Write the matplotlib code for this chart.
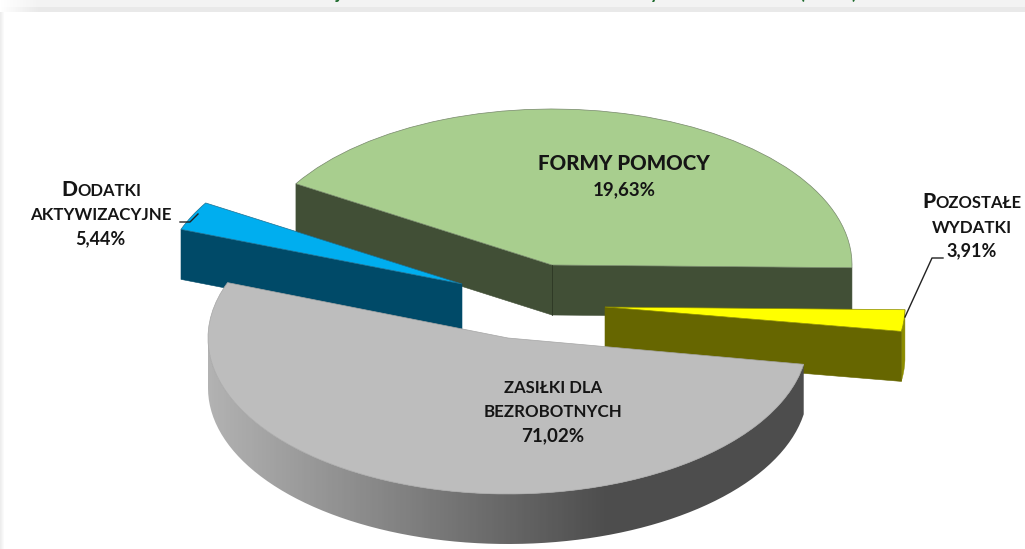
# -*- coding: utf-8 -*-
import numpy as np
import matplotlib
matplotlib.use('Agg')
import matplotlib.pyplot as plt
from matplotlib.patches import Wedge, Rectangle, Polygon
from matplotlib.transforms import Affine2D
from matplotlib.colors import LinearSegmentedColormap

plt.rcParams['font.family'] = ['Lato', 'DejaVu Sans']

# percentages as printed on the chart
names = ['ZASIŁKI DLA BEZROBOTNYCH', 'POZOSTAŁE WYDATKI', 'FORMY POMOCY', 'DODATKI AKTYWIZACYJNE']
shares = ['71,02%', '3,91%', '19,63%', '5,44%']
# the slices are not drawn to scale, so these are the angles read from the picture
start_deg = [159.2, -9.0, -1.0, 148.7]
end_deg = [350.3, -1.0, 148.6, 159.5]

top_colors = ['#BDBDBD', '#FFFF00', '#A8CE8E', '#00AEEF']
side_colors = ['#4D4D4D', '#666600', '#414F36', '#004A68']

# exploded centre of every slice in pixels
cx = [508, 605, 552, 462]
cy = [338, 307, 265, 284]
rx = 300
ry = 156
depth = 50

fig = plt.figure(figsize=(10.25, 5.49), dpi=100)
ax = fig.add_axes([0, 0, 1, 1])
ax.axis('off')


def point(i, deg):
    t = np.radians(deg)
    return cx[i] + rx * np.cos(t), cy[i] - ry * np.sin(t)


def cut_face(i, deg, color):
    x0, y0 = point(i, deg)
    pts = [(cx[i], cy[i]), (x0, y0), (x0, y0 + depth), (cx[i], cy[i] + depth)]
    ax.add_patch(Polygon(pts, closed=True, facecolor=color, edgecolor=color, lw=0.4))


def rim_points(i, d1, d2):
    t = np.radians(np.linspace(d1, d2, 80))
    x = cx[i] + rx * np.cos(t)
    y = cy[i] - ry * np.sin(t)
    return np.r_[np.c_[x, y], np.c_[x[::-1], y[::-1] + depth]]


def top_face(i, edge, zorder=1.5):
    tr = Affine2D().scale(rx, -ry).translate(cx[i], cy[i]) + ax.transData
    ax.add_patch(Wedge((0, 0), 1, start_deg[i], end_deg[i], transform=tr, zorder=zorder,
                       facecolor=top_colors[i], edgecolor=edge, lw=0.5))


# background card
ax.add_patch(Rectangle((0, 0), 1025, 7, facecolor='#F3F3F3', lw=0, zorder=0))
ax.add_patch(Rectangle((0, 7), 1025, 5, facecolor='#E9E9E9', lw=0, zorder=0))
side = LinearSegmentedColormap.from_list('side', ['#EDEDED', '#FFFFFF'])
ax.imshow(np.linspace(0, 1, 5).reshape(1, -1), extent=(0, 5, 549, 12), cmap=side,
          aspect='auto', zorder=0.5)
# the band fades out towards the top left corner
corner = np.ones((1, 40, 4))
corner[0, :, 3] = np.linspace(1, 0, 40)
ax.imshow(corner, extent=(0, 40, 12, 0), aspect='auto', zorder=0.6)
ax.set_xlim(0, 1025)
ax.set_ylim(549, 0)

# bits of the cut off title at the top edge
for x, s in zip([338, 655, 802, 854], ['j', 'y', '(', ')']):
    ax.text(x, -1, s, color='#1F6B2E', fontsize=13, fontweight='bold', ha='center',
            va='baseline', clip_on=True)

# green slice
cut_face(2, start_deg[2], side_colors[2])
cut_face(2, end_deg[2], side_colors[2])
ax.plot([cx[2], cx[2]], [cy[2], cy[2] + depth], color='#2c3624', lw=0.6)
top_face(2, '#76876a')

# yellow slice
ax.add_patch(Polygon(rim_points(1, start_deg[1], end_deg[1]), closed=True, zorder=1.6,
                     facecolor='#8C8C00', edgecolor='#8C8C00', lw=0.3))
cut_face(1, start_deg[1], side_colors[1])
ax.patches[-1].set_zorder(1.7)
top_face(1, '#8c8c00', zorder=1.8)

# blue slice
cut_face(3, end_deg[3], side_colors[3])
ax.patches[-1].set_zorder(1.7)
top_face(3, '#1d6f90', zorder=1.8)

# grey slice with the gradient on its rim
rim = Polygon(rim_points(0, 180, end_deg[0]), closed=True, facecolor='none', edgecolor='none')
ax.add_patch(rim)
shade = LinearSegmentedColormap.from_list('shade', ['#B2B2B2', '#808080', '#4D4D4D', '#4D4D4D'])
im = ax.imshow(np.linspace(0, 1, 300).reshape(1, -1), extent=(208, 808, 549, 300), cmap=shade,
               aspect='auto', zorder=2)
im.set_clip_path(rim)
ax.set_xlim(0, 1025)
ax.set_ylim(549, 0)
top_face(0, '#a5a5a5', zorder=3)

# leader lines
ax.plot([180, 190, 198], [222, 222, 214], color='#222222', lw=1, zorder=4)
ax.plot([943, 932, 905], [258, 258, 317], color='#222222', lw=1, zorder=4)

renderer = fig.canvas.get_renderer()


def small_caps(x, y, first, rest, big, small):
    a = ax.text(0, y, first, fontsize=big, fontweight='black', ha='left', va='baseline',
                color='#151515', zorder=5)
    b = ax.text(0, y, rest, fontsize=small, fontweight='bold', ha='left', va='baseline',
                color='#151515', zorder=5)
    w1 = a.get_window_extent(renderer).width
    w2 = b.get_window_extent(renderer).width
    a.set_x(x - (w1 + w2) / 2)
    b.set_x(x - (w1 + w2) / 2 + w1)


def label(x, y, s, size=11, weight='bold'):
    ax.text(x, y, s, fontsize=size, fontweight=weight, ha='center', va='center',
            color='#151515', zorder=5)


label(624, 164, names[2], size=14.8, weight='black')
label(624, 190, shares[2], size=13.5)

small_caps(101, 196, 'D', 'ODATKI', 15, 12)
label(101, 215, 'AKTYWIZACYJNE', size=12.2)
label(100, 239, shares[3], size=13)

small_caps(972, 208, 'P', 'OZOSTAŁE', 15, 12)
label(972, 228, 'WYDATKI', size=12.2)
label(972, 251, shares[1], size=13)

label(553, 388, 'ZASIŁKI DLA', size=12)
label(553, 412, 'BEZROBOTNYCH', size=12.2)
label(553, 436, shares[0], size=13.5)

fig.savefig('out.png', dpi=100)
